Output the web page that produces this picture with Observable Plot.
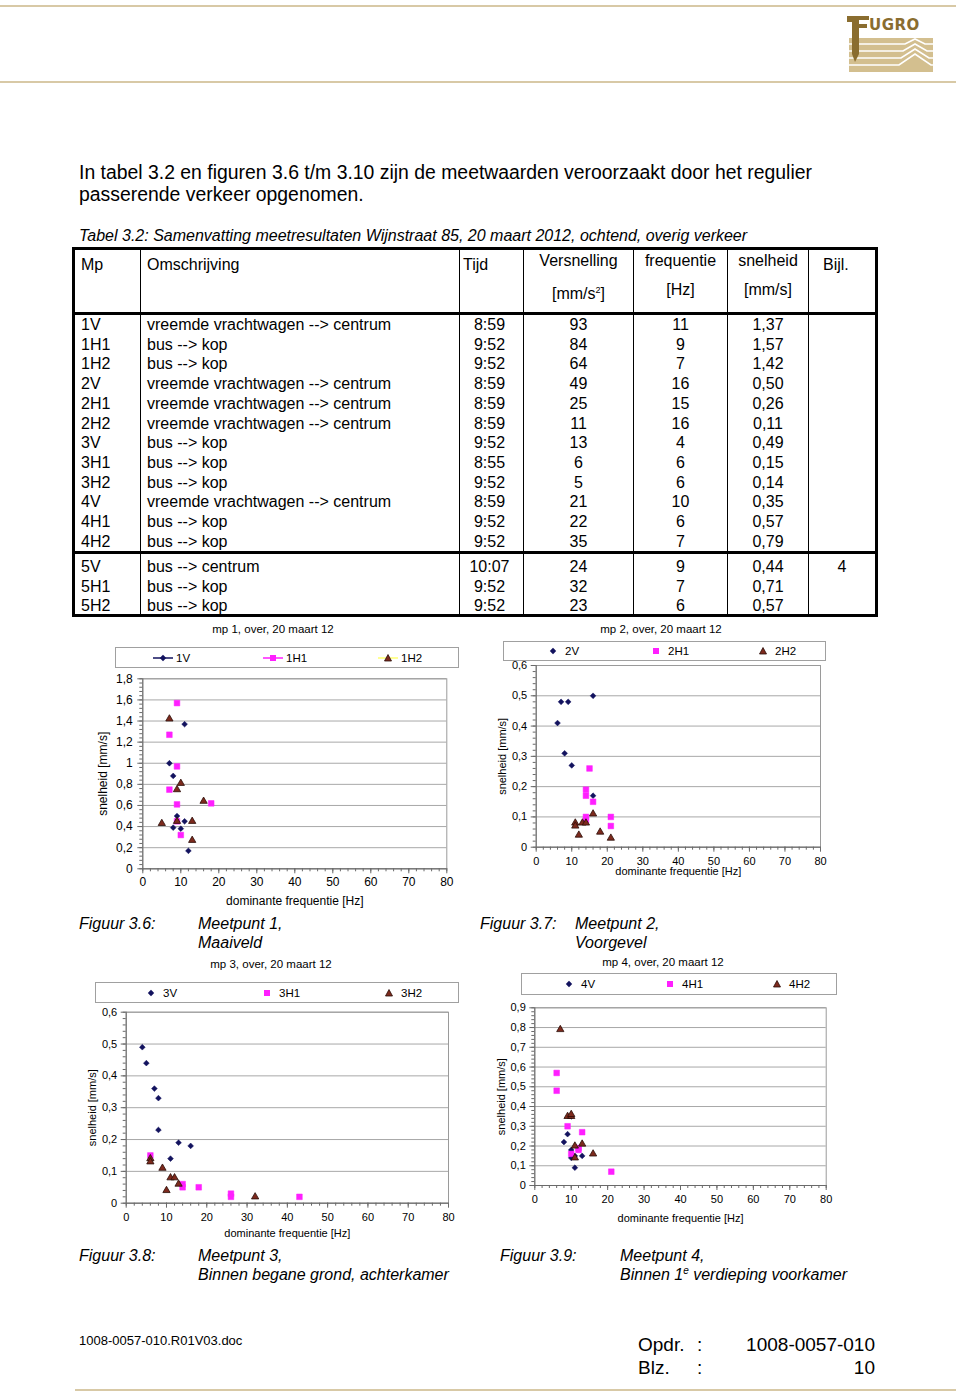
<!DOCTYPE html>
<html><head><meta charset="utf-8">
<script src="https://cdn.jsdelivr.net/npm/d3@7"></script>
<script src="https://cdn.jsdelivr.net/npm/@observablehq/plot@0.6"></script>
<style>
body{margin:0;background:#fff;font-family:"Liberation Sans",Arial,sans-serif;color:#000;}
#page{position:relative;width:960px;height:1395px;overflow:hidden;background:#fff;}
.abs{position:absolute;white-space:nowrap;}
.hline{position:absolute;height:2px;background:#d8c9a6;}
table.t{position:absolute;left:72px;top:247px;width:803px;border-collapse:collapse;table-layout:fixed;font-size:16px;border:3px solid #000;}
table.t td{padding:0;border-left:1px solid #000;border-right:1px solid #000;white-space:nowrap;overflow:visible;}
table.t tr.d td{height:19.7px;line-height:19.7px;}
table.t tr.last td{height:17px;line-height:17px;}
table.t tr.h td{height:58px;vertical-align:top;}
table.t tr.sep td{border-bottom:3px solid #000;}
.legend{position:absolute;border:1px solid #a0a0a0;background:#fff;font-size:11.5px;}
.legend .it{position:absolute;top:0;display:flex;align-items:center;height:100%;}
.ctitle{position:absolute;font-size:11.5px;transform:translateX(-50%);white-space:nowrap;}
.chart{position:absolute;}
.cap{position:absolute;font-style:italic;font-size:16px;line-height:19px;white-space:nowrap;}
</style></head><body><div id="page"></div>
<script>
// ---------------- table data ----------------
const mpCodes = ["1V","1H1","1H2","2V","2H1","2H2","3V","3H1","3H2","4V","4H1","4H2","5V","5H1","5H2"];
const omschrijving = ["vreemde vrachtwagen --> centrum","bus --> kop","bus --> kop","vreemde vrachtwagen --> centrum","vreemde vrachtwagen --> centrum","vreemde vrachtwagen --> centrum","bus --> kop","bus --> kop","bus --> kop","vreemde vrachtwagen --> centrum","bus --> kop","bus --> kop","bus --> centrum","bus --> kop","bus --> kop"];
const tijd = ["8:59","9:52","9:52","8:59","8:59","8:59","9:52","8:55","9:52","8:59","9:52","9:52","10:07","9:52","9:52"];
const versnelling = [93,84,64,49,25,11,13,6,5,21,22,35,24,32,23];
const frequentie = [11,9,7,16,15,16,4,6,6,10,6,7,9,7,6];
const snelheid = [1.37,1.57,1.42,0.50,0.26,0.11,0.49,0.15,0.14,0.35,0.57,0.79,0.44,0.71,0.57];
const bijlage = ["","","","","","","","","","","","","4","",""];

// ---------------- chart data [frequentie Hz, snelheid mm/s] ----------------
const mp1_1V  = [[11,1.37],[7,1.00],[8,0.88],[9,0.50],[11,0.45],[8,0.39],[10,0.38],[12,0.17]];
const mp1_1H1 = [[9,1.57],[7,1.27],[9,0.97],[7,0.75],[18,0.62],[9,0.61],[9,0.45],[10,0.32]];
const mp1_1H2 = [[7,1.42],[10,0.81],[9,0.75],[16,0.64],[9,0.45],[13,0.45],[5,0.43],[13,0.27]];

const mp2_2V  = [[16,0.50],[7,0.48],[9,0.48],[6,0.41],[8,0.31],[10,0.27],[16,0.17]];
const mp2_2H1 = [[15,0.26],[14,0.19],[14,0.17],[16,0.15],[14,0.10],[14,0.09],[21,0.10],[21,0.07]];
const mp2_2H2 = [[16,0.11],[11,0.08],[11,0.07],[13,0.08],[14,0.08],[12,0.04],[18,0.05],[21,0.03]];

const mp3_3V  = [[4,0.49],[5,0.44],[7,0.36],[8,0.33],[8,0.23],[13,0.19],[16,0.18],[11,0.14]];
const mp3_3H1 = [[6,0.15],[14,0.06],[14,0.05],[18,0.05],[26,0.03],[26,0.02],[43,0.02]];
const mp3_3H2 = [[6,0.14],[6,0.13],[9,0.11],[11,0.08],[12,0.08],[13,0.06],[10,0.04],[32,0.02]];

const mp4_4V  = [[10,0.35],[9,0.26],[8,0.22],[10,0.18],[10,0.14],[11,0.15],[13,0.15],[11,0.09]];
const mp4_4H1 = [[6,0.57],[6,0.48],[9,0.30],[13,0.27],[12,0.19],[12,0.18],[10,0.16],[21,0.07]];
const mp4_4H2 = [[7,0.79],[9,0.35],[10,0.35],[10,0.36],[11,0.20],[13,0.21],[16,0.16],[11,0.14]];

const xTickValues = [0,10,20,30,40,50,60,70,80];
const yTicks1 = [0,0.2,0.4,0.6,0.8,1,1.2,1.4,1.6,1.8];
const yTicks23 = [0,0.1,0.2,0.3,0.4,0.5,0.6];
const yTicks4 = [0,0.1,0.2,0.3,0.4,0.5,0.6,0.7,0.8,0.9];

// ---------------- helpers ----------------
const page = document.getElementById("page");
function el(tag, cls, style, html){const e=document.createElement(tag); if(cls) e.className=cls; if(style) e.style.cssText=style; if(html!=null) e.innerHTML=html; page.appendChild(e); return e;}
const comma = d => String(+(+d).toFixed(2)).replace(".", ",");
const comma2 = d => (+d).toFixed(2).replace(".", ",");

// header lines + logo
el("div","hline","left:0;top:5px;width:956px;");
el("div","hline","left:0;top:81px;width:956px;");
el("div","hline","left:75px;top:1389px;width:881px;");
el("div","abs","left:845px;top:10px;",`<svg width="90" height="68" viewBox="0 0 90 68">
<rect x="4" y="28" width="84" height="34" fill="#d3bf8f"/>
<g stroke="#fff" stroke-width="1.6" fill="none">
<path d="M4 34 H60 L70 29 L80 34 H88"/><path d="M4 41 H58 L70 34 L82 41 H88"/><path d="M4 48 H56 L70 39 L84 48 H88"/><path d="M4 55 H54 L70 44 L86 55 H88"/></g>
<path d="M2 6 H24 V10 H14 V14 H22 V18 H14 V44 L10 52 L7 44 V12 H2 Z" fill="#8a6d2f"/>
<text x="24" y="20" font-family="DejaVu Sans" font-weight="bold" font-size="15" fill="#8a6d2f" letter-spacing="0.5">UGRO</text>
</svg>`);

// intro text
el("div","abs","left:79px;top:161px;font-size:19.4px;line-height:22px;","In tabel 3.2 en figuren 3.6 t/m 3.10 zijn de meetwaarden veroorzaakt door het regulier<br>passerende verkeer opgenomen.");
el("div","abs","left:79px;top:227px;font-size:16px;line-height:18px;font-style:italic;","Tabel 3.2: Samenvatting meetresultaten Wijnstraat 85, 20 maart 2012, ochtend, overig verkeer");

// table
(function(){
  const colW=[67,319,64,110,94,81,68];
  let h=`<table class="t"><colgroup>${colW.map(w=>`<col style="width:${w}px">`).join("")}</colgroup>`;
  h+=`<tr class="h sep">
  <td style="padding:4px 0 0 6px;line-height:22px;">Mp</td>
  <td style="padding:4px 0 0 6px;line-height:22px;">Omschrijving</td>
  <td style="padding:4px 0 0 3px;line-height:22px;">Tijd</td>
  <td style="text-align:center;line-height:22px;"><div>Versnelling</div><div style="margin-top:7px">[mm/s<sup style="font-size:9px">2</sup>]</div></td>
  <td style="text-align:center;line-height:22px;"><div>frequentie</div><div style="margin-top:7px">[Hz]</div></td>
  <td style="text-align:center;line-height:22px;"><div>snelheid</div><div style="margin-top:7px">[mm/s]</div></td>
  <td style="padding:4px 0 0 14px;line-height:22px;">Bijl.</td></tr>`;
  mpCodes.forEach((m,i)=>{
    const cls = "d" + (i===11 ? " sep" : "") + (i===mpCodes.length-1 ? " last" : "");
    const pt = i===12 ? "padding-top:3px;" : "";
    h+=`<tr class="${cls}"><td style="padding-left:6px;${pt}">${m}</td><td style="padding-left:6px;${pt}">${omschrijving[i]}</td>
    <td style="text-align:center;padding-right:4px;${pt}">${tijd[i]}</td><td style="text-align:center;${pt}">${versnelling[i]}</td>
    <td style="text-align:center;${pt}">${frequentie[i]}</td><td style="text-align:center;${pt}">${comma2(snelheid[i])}</td>
    <td style="text-align:center;${pt}">${bijlage[i]}</td></tr>`;
  });
  h+=`</table>`;
  const wrap=document.createElement("div"); wrap.innerHTML=h; page.appendChild(wrap.firstChild);
})();

// ---------------- charts ----------------
const markerStyle = {
  V:  {symbol:"diamond2", fill:"#12125e", stroke:"#12125e", r:2.6},
  H1: {symbol:"square",   fill:"#ff1fff", stroke:"#ff1fff", r:3.2},
  H2: {symbol:"triangle", fill:"#7d2a1d", stroke:"#2a0d08", r:2.7}
};
function markerSvg(kind, line){
  const shapes = {
    V:`<path d="M10 1.8 L13.2 5 L10 8.2 L6.8 5 Z" fill="#12125e"/>`,
    H1:`<rect x="7" y="2" width="6" height="6" fill="#ff1fff"/>`,
    H2:`<path d="M10 1.5 L13.5 8 L6.5 8 Z" fill="#7d2a1d" stroke="#2a0d08" stroke-width="0.8"/>`
  };
  const lc = {V:"#12125e",H1:"#ff1fff",H2:"#ffff70"}[kind];
  return `<svg width="20" height="10" style="display:block">${line?`<line x1="0" x2="20" y1="5" y2="5" stroke="${lc}" stroke-width="1.5"/>`:""}${shapes[kind]}</svg>`;
}

function drawChart(c){
  el("div","ctitle",`left:${c.titleX}px;top:${c.titleY}px;`,c.title);
  const lg = el("div","legend",`left:${c.legend[0]}px;top:${c.legend[1]}px;width:${c.legend[2]}px;height:${c.legend[3]}px;`);
  c.series.forEach((s,i)=>{
    const it=document.createElement("div"); it.className="it"; it.style.left=(c.legendItems[i]-c.legend[0])+"px";
    it.innerHTML=markerSvg(s.kind,c.legendLine)+`<span style="margin-left:${c.legendLine?3:2}px">${s.name}</span>`;
    lg.appendChild(it);
  });
  const xMinor = d3.range(0,81,2);
  const yMinor = d3.range(0, Math.round(c.yMax/c.yMinorStep)+1).map(i=>+(i*c.yMinorStep).toFixed(3));
  const p = Plot.plot({
    width:c.w, height:c.h,
    marginLeft:c.ml, marginRight:c.mr, marginTop:c.mt, marginBottom:c.mb,
    style:{fontFamily:"'Liberation Sans', Arial, sans-serif", fontSize:c.fs+"px", color:"#000", background:"transparent", overflow:"visible"},
    x:{domain:[0,80]},
    y:{domain:[0,c.yMax]},
    marks:[
      Plot.gridY(c.yTicks,{stroke:"#a8a8a8", strokeOpacity:1}),
      Plot.frame({stroke:"#9a9a9a"}),
      Plot.ruleX([0],{stroke:"#6a6a6a"}),
      Plot.ruleY([0],{stroke:"#6a6a6a"}),
      Plot.axisX(xMinor,{tickSize:3, tickFormat:()=>"", label:null, stroke:"#6a6a6a"}),
      Plot.axisY(yMinor,{tickSize:3, tickFormat:()=>"", label:null, stroke:"#6a6a6a"}),
      Plot.axisX(xTickValues,{tickSize:5, tickPadding:c.xpad, stroke:"#6a6a6a", tickFormat:comma,
        label:"dominante frequentie [Hz]", labelAnchor:"center", labelArrow:"none", labelOffset:c.xlo}),
      Plot.axisY(c.yTicks,{tickSize:5, tickPadding:c.ypad, stroke:"#6a6a6a", tickFormat:comma,
        label:"snelheid [mm/s]", labelAnchor:"center", labelArrow:"none", labelOffset:c.ylo}),
      ...c.series.map(s=>Plot.dot(s.data,{x:d=>d[0], y:d=>d[1], ...markerStyle[s.kind], strokeWidth:s.kind==="H2"?0.8:0.5}))
    ]
  });
  const box = el("div","chart",`left:${c.x}px;top:${c.y}px;`);
  box.appendChild(p);
}

drawChart({title:"mp 1, over, 20 maart 12", titleX:273, titleY:623,
  legend:[115,647,342,19], legendItems:[152,262,377], legendLine:true,
  series:[{name:"1V",kind:"V",data:mp1_1V},{name:"1H1",kind:"H1",data:mp1_1H1},{name:"1H2",kind:"H2",data:mp1_1H2}],
  x:90, y:672, w:370, h:240, ml:52.3, mr:13.7, mt:6.3, mb:43.7, yMax:1.8, yTicks:yTicks1, yMinorStep:0.04,
  fs:12, xpad:4, ypad:5, xlo:36, ylo:44});

drawChart({title:"mp 2, over, 20 maart 12", titleX:661, titleY:623,
  legend:[503,641,321,18], legendItems:[542,645,752], legendLine:false,
  series:[{name:"2V",kind:"V",data:mp2_2V},{name:"2H1",kind:"H1",data:mp2_2H1},{name:"2H2",kind:"H2",data:mp2_2H2}],
  x:490, y:660, w:340, h:225, ml:45.7, mr:10, mt:5, mb:38.3, yMax:0.6, yTicks:yTicks23, yMinorStep:0.02,
  fs:11, xpad:5, ypad:4, xlo:28, ylo:38});

drawChart({title:"mp 3, over, 20 maart 12", titleX:271, titleY:958,
  legend:[95,982,362,19], legendItems:[140,256,378], legendLine:false,
  series:[{name:"3V",kind:"V",data:mp3_3V},{name:"3H1",kind:"H1",data:mp3_3H1},{name:"3H2",kind:"H2",data:mp3_3H2}],
  x:80, y:1005, w:380, h:240, ml:45.7, mr:12, mt:6.7, mb:42.3, yMax:0.6, yTicks:yTicks23, yMinorStep:0.02,
  fs:11, xpad:5, ypad:4, xlo:34, ylo:38});

drawChart({title:"mp 4, over, 20 maart 12", titleX:663, titleY:956,
  legend:[521,973,314,20], legendItems:[558,659,766], legendLine:false,
  series:[{name:"4V",kind:"V",data:mp4_4V},{name:"4H1",kind:"H1",data:mp4_4H1},{name:"4H2",kind:"H2",data:mp4_4H2}],
  x:490, y:1000, w:345, h:230, ml:44.3, mr:9.3, mt:7.3, mb:45, yMax:0.9, yTicks:yTicks4, yMinorStep:0.02,
  fs:11, xpad:5, ypad:4, xlo:36, ylo:38});

// figure captions
el("div","cap","left:79px;top:914px;","Figuur 3.6:");
el("div","cap","left:198px;top:914px;","Meetpunt 1,<br>Maaiveld");
el("div","cap","left:480px;top:914px;","Figuur 3.7:");
el("div","cap","left:575px;top:914px;","Meetpunt 2,<br>Voorgevel");
el("div","cap","left:79px;top:1246px;","Figuur 3.8:");
el("div","cap","left:198px;top:1246px;","Meetpunt 3,<br>Binnen begane grond, achterkamer");
el("div","cap","left:500px;top:1246px;","Figuur 3.9:");
el("div","cap","left:620px;top:1246px;",'Meetpunt 4,<br>Binnen 1<sup style="font-size:10px;line-height:0">e</sup> verdieping voorkamer');

// footer
el("div","abs","left:79px;top:1333px;font-size:13px;","1008-0057-010.R01V03.doc");
el("div","abs","left:638px;top:1333px;font-size:19px;line-height:23px;","Opdr.<br>Blz.");
el("div","abs","left:697px;top:1333px;font-size:19px;line-height:23px;",":<br>:");
el("div","abs","left:735px;top:1333px;width:140px;text-align:right;font-size:19px;line-height:23px;","1008-0057-010<br>10");
</script></body></html>
